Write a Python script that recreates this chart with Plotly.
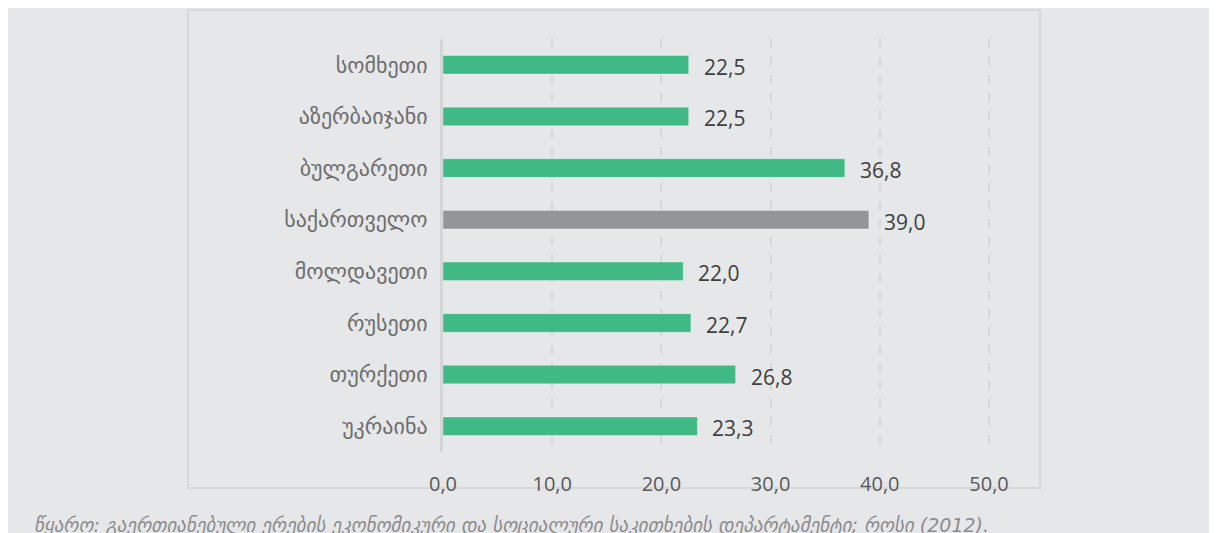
import plotly.graph_objects as go

# ქვეყნები (ზემოდან ქვემოთ) და მნიშვნელობები
countries = ["სომხეთი", "აზერბაიჯანი", "ბულგარეთი", "საქართველო",
             "მოლდავეთი", "რუსეთი", "თურქეთი", "უკრაინა"]
values = [22.5, 22.5, 36.8, 39.0, 22.0, 22.7, 26.8, 23.3]
highlight = "საქართველო"
x_ticks = [0, 10, 20, 30, 40, 50]
source_note = ("წყარო: გაერთიანებული ერების ეკონომიკური და სოციალური "
               "საკითხების დეპარტამენტი; როსი (2012).")

GREEN = "#41b985"
GREY_BAR = "#939598"
BG = "#e6e7e9"

# the page adds an 8px body margin, so figure pixels = screen pixels - 8
W, H = 1217, 533
L, R, T, B = 435, 233, 31, 89
pw, ph = W - L - R, H - T - B


def px_x(p):
    return (p - L) / pw


def px_y(p):
    return (H - B - p) / ph


colors = [GREY_BAR if c == highlight else GREEN for c in countries]

fig = go.Figure()
fig.add_trace(go.Bar(
    x=values, y=countries, orientation="h",
    marker=dict(color=colors, line=dict(color="rgba(255,255,255,0.35)", width=1)),
    width=0.36, hoverinfo="skip",
))

# value labels
for c, v in zip(countries, values):
    fig.add_annotation(x=v, y=c, text=f"{v:.1f}".replace(".", ","),
                       xanchor="left", yanchor="middle", xshift=13, yshift=-2,
                       showarrow=False,
                       font=dict(family="Open Sans", size=21, color="#404040"))

# inner frame
fig.add_shape(type="rect", xref="paper", yref="paper", layer="below",
              x0=px_x(180), x1=px_x(1032), y0=px_y(2), y1=px_y(480),
              fillcolor=BG, line=dict(color="#d7d8da", width=2))

fig.add_annotation(x=px_x(24), y=px_y(517), xref="paper", yref="paper",
                   text=f"<i>{source_note}</i>", showarrow=False,
                   xanchor="left", yanchor="middle",
                   font=dict(family="DejaVu Sans", size=19, color="#8c8c8c"))

fig.update_xaxes(range=[0, 50.275], tickvals=x_ticks, tickformat=".1f",
                 showgrid=True, gridcolor="#d6d7d9", gridwidth=2, griddash="dash",
                 zeroline=False, showline=False,
                 ticks="outside", ticklen=14, tickcolor="rgba(0,0,0,0)",
                 tickfont=dict(family="Open Sans", size=20, color="#595959"),
                 fixedrange=True)
fig.update_yaxes(categoryorder="array", categoryarray=countries[::-1],
                 range=[-0.5, len(countries) - 0.5],
                 showline=True, linecolor="#d4d5d7", linewidth=3,
                 showgrid=False, zeroline=False,
                 ticks="outside", ticklen=8, tickcolor="rgba(0,0,0,0)",
                 tickfont=dict(family="DejaVu Sans", size=22, color="#6e6e6e"),
                 fixedrange=True)

fig.update_layout(
    width=W, height=H,
    margin=dict(l=L, r=R, t=T, b=B),
    paper_bgcolor=BG, plot_bgcolor="rgba(0,0,0,0)",
    separators=", ",
    showlegend=False,
)

fig.write_html("out.html", config={"displayModeBar": False})
